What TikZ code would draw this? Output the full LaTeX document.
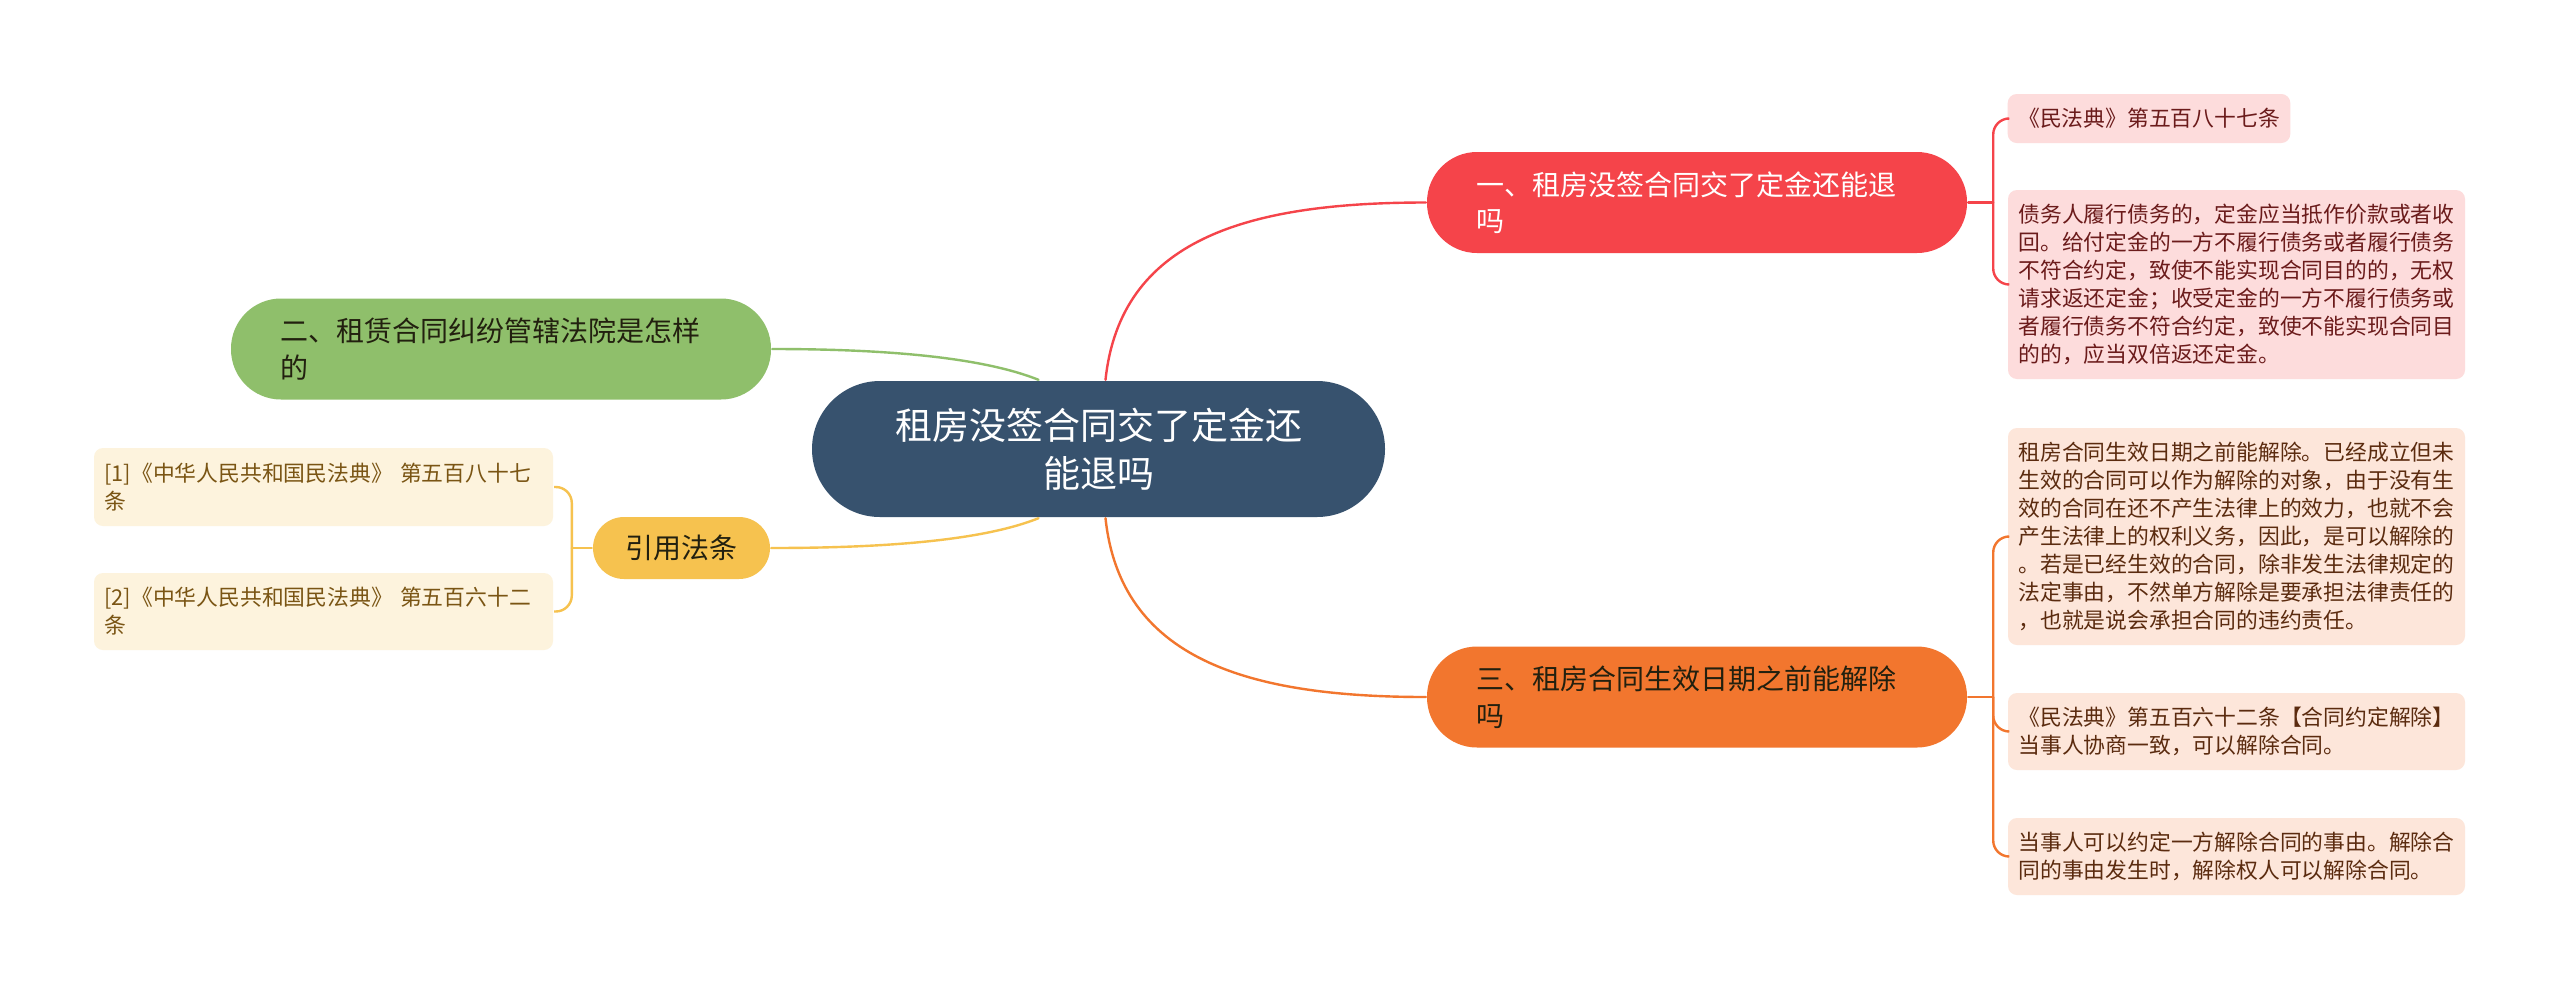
\documentclass[tikz,border=0pt]{standalone}
\usepackage{fontspec}
\setmainfont{Noto Sans CJK SC}
\definecolor{rootblue}{HTML}{37526E}
\definecolor{redtopic}{HTML}{F5444A}
\definecolor{orangetopic}{HTML}{F2762E}
\definecolor{greentopic}{HTML}{8FBF6B}
\definecolor{yellowtopic}{HTML}{F6C24F}
\definecolor{redleaf}{HTML}{FDDCDC}
\definecolor{orangeleaf}{HTML}{FDE6DA}
\definecolor{yellowleaf}{HTML}{FDF3DD}
\definecolor{redink}{HTML}{6B1B1B}
\definecolor{orangeink}{HTML}{5B2B0F}
\definecolor{yellowink}{HTML}{7A5514}
\definecolor{darkink}{HTML}{22200F}
\begin{document}
\begin{tikzpicture}[x=1pt, y=-1pt, line width=2.4pt,
  root/.style={fill=rootblue, text=white, rounded corners=68pt, minimum width=573pt,
    minimum height=136pt, inner sep=0pt, align=center, font=\fontsize{37}{48}\selectfont},
  topic/.style={rounded corners=50pt, minimum height=101pt, inner ysep=0pt,
    font=\fontsize{28}{36.5}\selectfont},
  wide/.style={text width=442pt, inner xsep=49pt, align=left},
  leaf/.style={rounded corners=9pt, inner xsep=10.5pt, inner ysep=0pt, align=left,
    font=\fontsize{21.8}{28}\selectfont},
  long/.style={text width=436pt},
  link/.style={draw=#1, line cap=round},
  bracket/.style={draw=#1, rounded corners=16pt}]
  \fill[white] (0,0) rectangle (2560,989);
  \useasboundingbox (0,0) rectangle (2560,989);
  \node[root] (root) at (1098.5,449) {租房没签合同交了定金还\\能退吗};
  \node[topic, wide, fill=redtopic, text=white] (t1) at (1697,202.5) {一、租房没签合同交了定金还能退\\吗};
  \node[topic, wide, fill=greentopic, text=darkink] (t2) at (501,349) {二、租赁合同纠纷管辖法院是怎样\\的};
  \node[topic, wide, fill=orangetopic, text=darkink] (t3) at (1697,697) {三、租房合同生效日期之前能解除\\吗};
  \node[topic, fill=yellowtopic, text=darkink, rounded corners=31pt, minimum width=177pt,
    minimum height=62pt] (t4) at (681.5,548) {引用法条};
  \node[leaf, fill=redleaf, text=redink, minimum height=49pt] (r1) at (2149,118.5) {《民法典》第五百八十七条};
  \node[leaf, long, fill=redleaf, text=redink, minimum height=189pt] (r2) at (2236.5,284.5)
    {债务人履行债务的，定金应当抵作价款或者收\\回。给付定金的一方不履行债务或者履行债务\\不符合约定，致使不能实现合同目的的，无权\\请求返还定金；收受定金的一方不履行债务或\\者履行债务不符合约定，致使不能实现合同目\\的的，应当双倍返还定金。};
  \node[leaf, long, fill=orangeleaf, text=orangeink, minimum height=217pt] (o1) at (2236.5,536.5)
    {租房合同生效日期之前能解除。已经成立但未\\生效的合同可以作为解除的对象，由于没有生\\效的合同在还不产生法律上的效力，也就不会\\产生法律上的权利义务，因此，是可以解除的\\。若是已经生效的合同，除非发生法律规定的\\法定事由，不然单方解除是要承担法律责任的\\，也就是说会承担合同的违约责任。};
  \node[leaf, long, fill=orangeleaf, text=orangeink, minimum height=77pt] (o2) at (2236.5,731.5)
    {《民法典》第五百六十二条【合同约定解除】\\当事人协商一致，可以解除合同。};
  \node[leaf, long, fill=orangeleaf, text=orangeink, minimum height=77pt] (o3) at (2236.5,856.5)
    {当事人可以约定一方解除合同的事由。解除合\\同的事由发生时，解除权人可以解除合同。};
  \node[leaf, text width=438pt, fill=yellowleaf, text=yellowink, minimum height=78pt] (y1) at (323.5,487)
    {[1]《中华人民共和国民法典》 第五百八十七\\条};
  \node[leaf, text width=438pt, fill=yellowleaf, text=yellowink, minimum height=77pt] (y2) at (323.5,611.5)
    {[2]《中华人民共和国民法典》 第五百六十二\\条};
  \draw[link=redtopic] ([xshift=7pt]root.north) .. controls +(15,-140) and +(-180,0) .. (t1.west);
  \draw[link=orangetopic] ([xshift=7pt]root.south) .. controls +(15,140) and +(-180,0) .. (t3.west);
  \draw[link=greentopic] ([xshift=-60pt]root.north) .. controls +(-50,-20) and +(130,0) .. (t2.east);
  \draw[link=yellowtopic] ([xshift=-60pt]root.south) .. controls +(-50,20) and +(130,0) .. (t4.east);
  \draw[link=redtopic] (t1.east) -- ++(25,0) coordinate (j1);
  \draw[bracket=redtopic] (j1) |- (r1.west);
  \draw[bracket=redtopic] (j1) |- (r2.west);
  \draw[link=orangetopic] (t3.east) -- ++(25,0) coordinate (j3);
  \draw[bracket=orangetopic] (j3) |- (o1.west);
  \draw[bracket=orangetopic] (j3) |- (o2.west);
  \draw[bracket=orangetopic] (j3) |- (o3.west);
  \draw[link=yellowtopic] (t4.west) -- ++(-20,0) coordinate (j4);
  \draw[bracket=yellowtopic] (j4) |- (y1.east);
  \draw[bracket=yellowtopic] (j4) |- (y2.east);
\end{tikzpicture}
\end{document}
